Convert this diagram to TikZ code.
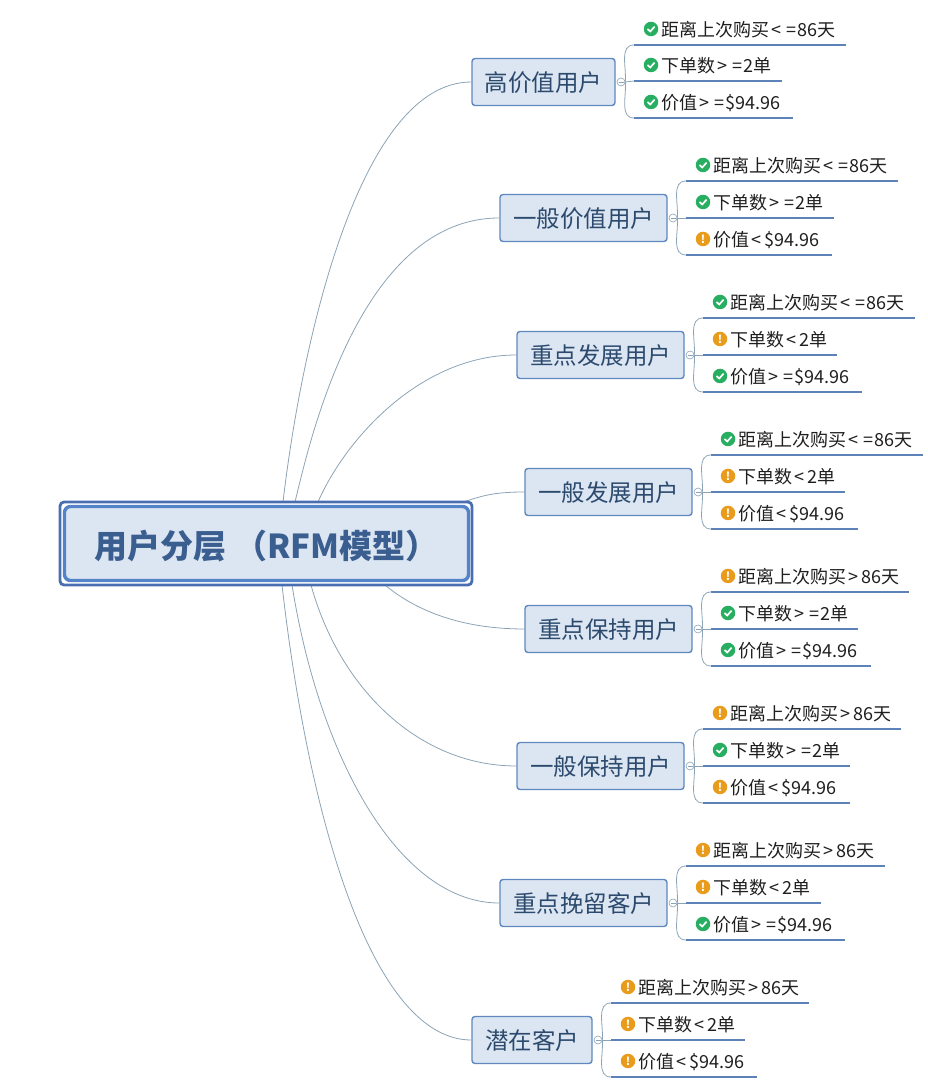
\documentclass[tikz,border=0pt]{standalone}
\usepackage{fontspec}
\setmainfont{Noto Sans CJK SC}
\usetikzlibrary{positioning}
\definecolor{boxfill}{HTML}{DCE6F2}
\definecolor{boxline}{HTML}{5E88BE}
\definecolor{rootline}{HTML}{4A6FB0}
\definecolor{rootedge}{HTML}{5583C8}
\definecolor{roottext}{HTML}{3B5E90}
\definecolor{topictext}{HTML}{2C4A6E}
\definecolor{twigline}{HTML}{8CA3B5}
\definecolor{leafline}{HTML}{5C82B8}
\definecolor{okgreen}{HTML}{27AE60}
\definecolor{warnorange}{HTML}{E99B1C}
\newcommand{\ltmark}{\kern2pt<\kern3pt}
\newcommand{\gtmark}{\kern2pt>\kern3pt}
\newcommand{\lemark}{\kern2pt<\kern5pt=\kern1pt}
\newcommand{\gemark}{\kern2pt>\kern5pt=\kern1pt}
\newcommand{\lowered}[2]{\raisebox{0pt}[\dimexpr\height+#1\relax][\depth]{#2}}
\tikzset{
	rootouter/.style={draw=rootline, line width=2.8pt, rounded corners=4pt, minimum width=412pt, minimum height=83pt},
	rootinner/.style={draw=rootedge, line width=3.4pt, fill=boxfill, rounded corners=6pt, minimum width=404pt, minimum height=74pt, text=roottext, font=\fontsize{33}{38}\selectfont\bfseries},
	topic/.style={draw=boxline, line width=1.4pt, fill=boxfill, rounded corners=3pt, minimum height=47pt, inner sep=0pt, text=topictext, font=\fontsize{23.5}{28}\selectfont},
	hub/.style={circle, draw=twigline, fill=white, line width=0.6pt, minimum size=8pt, inner sep=0pt,
		path picture={\draw [twigline, line width=0.6pt] ([xshift=-2.5pt]path picture bounding box.center) -- ([xshift=2.5pt]path picture bounding box.center);}},
	twig/.style={draw=twigline, line width=0.8pt},
	leaf/.style={anchor=south west, inner xsep=0pt, inner ysep=0pt, minimum height=30pt, align=left, text=black!88, font=\fontsize{18}{22}\selectfont,
		execute at begin node=\hspace*{27pt},
		append after command={(\tikzlastnode.south west) edge [draw=leafline, line width=2.5pt] (\tikzlastnode.south east)}},
	okicon/.style={circle, fill=okgreen, minimum size=14.5pt, inner sep=0pt,
		path picture={\draw [white, line width=1.7pt] ([shift={(-3.5pt,0pt)}]path picture bounding box.center) -- ([shift={(-0.8pt,-2.5pt)}]path picture bounding box.center) -- ([shift={(3.6pt,2.4pt)}]path picture bounding box.center);}},
	warnicon/.style={circle, fill=warnorange, minimum size=14.5pt, inner sep=0pt, text=white, font=\fontsize{11}{11}\selectfont\bfseries},
	okleaf/.style={leaf, append after command={node [okicon] (\tikzlastnode-icon) at ([shift={(17pt,16pt)}]\tikzlastnode.south west) {}}},
	warnleaf/.style={leaf, append after command={node [warnicon] (\tikzlastnode-icon) at ([shift={(17pt,16pt)}]\tikzlastnode.south west) {!}}}
}

\begin{document}
\begin{tikzpicture}[x=1pt, y=1pt]
	\useasboundingbox (0, 0) rectangle (928, 1088);

	\coordinate (r1) at (283, 586);
	\coordinate (r2) at (295, 586);
	\coordinate (r3) at (318, 586);
	\coordinate (r4) at (463, 586);
	\coordinate (r5) at (385, 503);
	\coordinate (r6) at (311, 503);
	\coordinate (r7) at (292, 503);
	\coordinate (r8) at (282, 503);

	\node [topic, minimum width=143pt] (t1) at (543.5, 1006) {\lowered{2pt}{高价值用户}};
	\node [topic, minimum width=167pt] (t2) at (583.5, 870) {\lowered{2pt}{一般价值用户}};
	\node [topic, minimum width=167pt] (t3) at (600.5, 733) {\lowered{2pt}{重点发展用户}};
	\node [topic, minimum width=167pt] (t4) at (608.5, 596) {\lowered{2pt}{一般发展用户}};
	\node [topic, minimum width=167pt] (t5) at (608.5, 459) {\lowered{2pt}{重点保持用户}};
	\node [topic, minimum width=167pt] (t6) at (600.5, 322) {\lowered{2pt}{一般保持用户}};
	\node [topic, minimum width=167pt] (t7) at (583.5, 185) {\lowered{2pt}{重点挽留客户}};
	\node [topic, minimum width=120pt] (t8) at (532, 48) {\lowered{2pt}{潜在客户}};

	\node [hub] (h1) at (621, 1006) {};
	\node [hub] (h2) at (673, 870) {};
	\node [hub] (h3) at (690, 733) {};
	\node [hub] (h4) at (698, 596) {};
	\node [hub] (h5) at (698, 459) {};
	\node [hub] (h6) at (690, 322) {};
	\node [hub] (h7) at (673, 185) {};
	\node [hub] (h8) at (598, 48) {};

	\node [okleaf, text width=212pt] (a1) at (634, 1043) {距离上次购买\lemark 86天};
	\node [okleaf, text width=148pt] (a2) at (634, 1007) {下单数\gemark 2单};
	\node [okleaf, text width=159pt] (a3) at (634, 970) {价值\gemark\$94.96};

	\node [okleaf, text width=212pt] (b1) at (686, 907) {距离上次购买\lemark 86天};
	\node [okleaf, text width=148pt] (b2) at (686, 870) {下单数\gemark 2单};
	\node [warnleaf, text width=146pt] (b3) at (686, 833) {价值\ltmark\$94.96};

	\node [okleaf, text width=212pt] (c1) at (703, 770) {距离上次购买\lemark 86天};
	\node [warnleaf, text width=134pt] (c2) at (703, 733) {下单数\ltmark 2单};
	\node [okleaf, text width=159pt] (c3) at (703, 696) {价值\gemark\$94.96};

	\node [okleaf, text width=212pt] (d1) at (711, 633) {距离上次购买\lemark 86天};
	\node [warnleaf, text width=134pt] (d2) at (711, 596) {下单数\ltmark 2单};
	\node [warnleaf, text width=147pt] (d3) at (711, 559) {价值\ltmark\$94.96};

	\node [warnleaf, text width=198pt] (e1) at (711, 496) {距离上次购买\gtmark 86天};
	\node [okleaf, text width=147pt] (e2) at (711, 459) {下单数\gemark 2单};
	\node [okleaf, text width=160pt] (e3) at (711, 422) {价值\gemark\$94.96};

	\node [warnleaf, text width=198pt] (f1) at (703, 359) {距离上次购买\gtmark 86天};
	\node [okleaf, text width=147pt] (f2) at (703, 322) {下单数\gemark 2单};
	\node [warnleaf, text width=147pt] (f3) at (703, 285) {价值\ltmark\$94.96};

	\node [warnleaf, text width=199pt] (g1) at (686, 222) {距离上次购买\gtmark 86天};
	\node [warnleaf, text width=135pt] (g2) at (686, 185) {下单数\ltmark 2单};
	\node [okleaf, text width=159pt] (g3) at (686, 148) {价值\gemark\$94.96};

	\node [warnleaf, text width=198pt] (k1) at (611, 85) {距离上次购买\gtmark 86天};
	\node [warnleaf, text width=134pt] (k2) at (611, 48) {下单数\ltmark 2单};
	\node [warnleaf, text width=146pt] (k3) at (611, 11) {价值\ltmark\$94.96};

	\draw [twig] (t1.west) .. controls (360, 1006) and (302, 748) .. (r1);
	\draw [twig] (t2.west) .. controls (360, 870) and (310, 648) .. (r2);
	\draw [twig] (t3.west) .. controls (420, 733) and (345, 648) .. (r3);
	\draw [twig] (t4.west) .. controls (490, 596) and (480, 591) .. (r4);
	\draw [twig] (t5.west) .. controls (460, 459) and (415, 478) .. (r5);
	\draw [twig] (t6.west) .. controls (420, 322) and (340, 398) .. (r6);
	\draw [twig] (t7.west) .. controls (400, 185) and (320, 328) .. (r7);
	\draw [twig] (t8.west) .. controls (375, 48) and (310, 258) .. (r8);

	\draw [twig] (h1.east) to [out=85, in=180] (a1.south west);
	\draw [twig] (h1.east) to (a2.south west);
	\draw [twig] (h1.east) to [out=-85, in=180] (a3.south west);
	\draw [twig] (h2.east) to [out=85, in=180] (b1.south west);
	\draw [twig] (h2.east) to (b2.south west);
	\draw [twig] (h2.east) to [out=-85, in=180] (b3.south west);
	\draw [twig] (h3.east) to [out=85, in=180] (c1.south west);
	\draw [twig] (h3.east) to (c2.south west);
	\draw [twig] (h3.east) to [out=-85, in=180] (c3.south west);
	\draw [twig] (h4.east) to [out=85, in=180] (d1.south west);
	\draw [twig] (h4.east) to (d2.south west);
	\draw [twig] (h4.east) to [out=-85, in=180] (d3.south west);
	\draw [twig] (h5.east) to [out=85, in=180] (e1.south west);
	\draw [twig] (h5.east) to (e2.south west);
	\draw [twig] (h5.east) to [out=-85, in=180] (e3.south west);
	\draw [twig] (h6.east) to [out=85, in=180] (f1.south west);
	\draw [twig] (h6.east) to (f2.south west);
	\draw [twig] (h6.east) to [out=-85, in=180] (f3.south west);
	\draw [twig] (h7.east) to [out=85, in=180] (g1.south west);
	\draw [twig] (h7.east) to (g2.south west);
	\draw [twig] (h7.east) to [out=-85, in=180] (g3.south west);
	\draw [twig] (h8.east) to [out=85, in=180] (k1.south west);
	\draw [twig] (h8.east) to (k2.south west);
	\draw [twig] (h8.east) to [out=-85, in=180] (k3.south west);

	\node [rootouter] (rootbox) at (266, 544.5) {};
	\node [rootinner] (root) at (266.5, 544.5) {\lowered{6pt}{用户分层 （RFM模型）}};
\end{tikzpicture}
\end{document}
